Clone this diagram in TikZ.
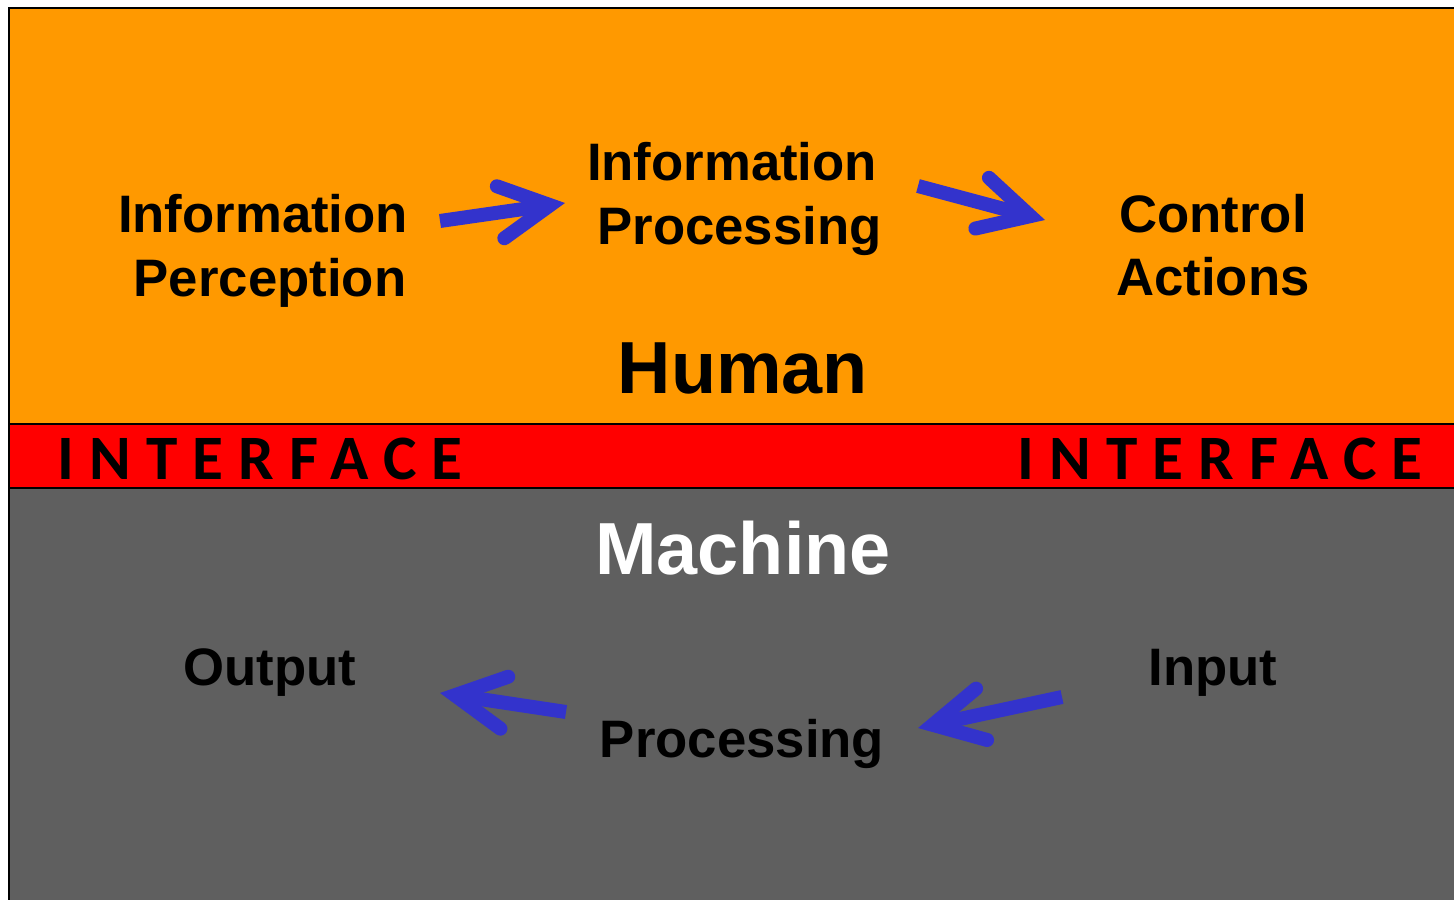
\documentclass[tikz,border=0pt]{standalone}
\usepackage{fontspec}
\setmainfont{Liberation Sans}
\newfontfamily\ifacefont[LetterSpace=24]{Carlito}
\usepackage{tikz}
\usetikzlibrary{arrows.meta}
\definecolor{humanorange}{HTML}{FF9900}
\definecolor{ifacered}{HTML}{FF0000}
\definecolor{machinegray}{HTML}{5F5F5F}
\definecolor{flowblue}{HTML}{3333CC}
\tikzset{
	stage/.style = {align=center, inner sep=0pt, text centered, font=\fontsize{30}{36}\selectfont\bfseries},
	agent/.style = {inner sep=0pt, font=\fontsize{42}{48}\selectfont\bfseries},
	iface/.style = {inner sep=0pt, font=\ifacefont\fontsize{36}{40}\selectfont\bfseries},
	band/.style = {draw=black, line width=0.04cm},
	flow/.style = {-{Straight Barb[length=1.0cm, width=1.05cm, line cap=round, line join=miter]}, color=flowblue, line width=0.28cm},
}

\begin{document}
\begin{tikzpicture}
	\useasboundingbox (0,0) rectangle (29.08,17.98);
	% the three bands
	\draw[band, fill=humanorange] (0.18,9.5) rectangle (29.6,17.82);
	\draw[band, fill=machinegray] (0.18,-0.5) rectangle (29.6,8.22);
	\draw[band, fill=ifacered] (0.18,8.22) rectangle (29.6,9.5);

	\node[stage](perc) at (5.26,12.96) {Information\\\hspace*{0.28cm}Perception};
	\node[stage](proc) at (14.64,14.0) {Information\\\hspace*{0.3cm}Processing};
	\node[stage](ctrl) at (24.26,13.08) {Control\\Actions};
	\node[agent](human) at (14.86,10.62) {Human};

	\node[iface](ifl) at (5.2,8.8) {INTERFACE};
	\node[iface](ifr) at (24.4,8.8) {INTERFACE};

	\node[agent, white](machine) at (14.86,7.02) {Machine};
	\node[stage, anchor=base](out) at (5.4,4.28) {Output};
	\node[stage, anchor=base](mproc) at (14.84,2.84) {Processing};
	\node[stage, anchor=base](in) at (24.26,4.28) {Input};

	\draw[flow] ([shift={(3.54,0.6)}]perc.center) -- ([shift={(-3.34,-0.08)}]proc.center);
	\draw[flow] ([shift={(3.72,0.26)}]proc.center) -- ([shift={(-3.36,0.5)}]ctrl.center);
	\draw[flow] ([shift={(-3.02,-0.24)}]in.base) -- ([shift={(3.52,0.58)}]mproc.base);
	\draw[flow] ([shift={(-3.52,0.9)}]mproc.base) -- ([shift={(3.4,-0.16)}]out.base);
\end{tikzpicture}
\end{document}
